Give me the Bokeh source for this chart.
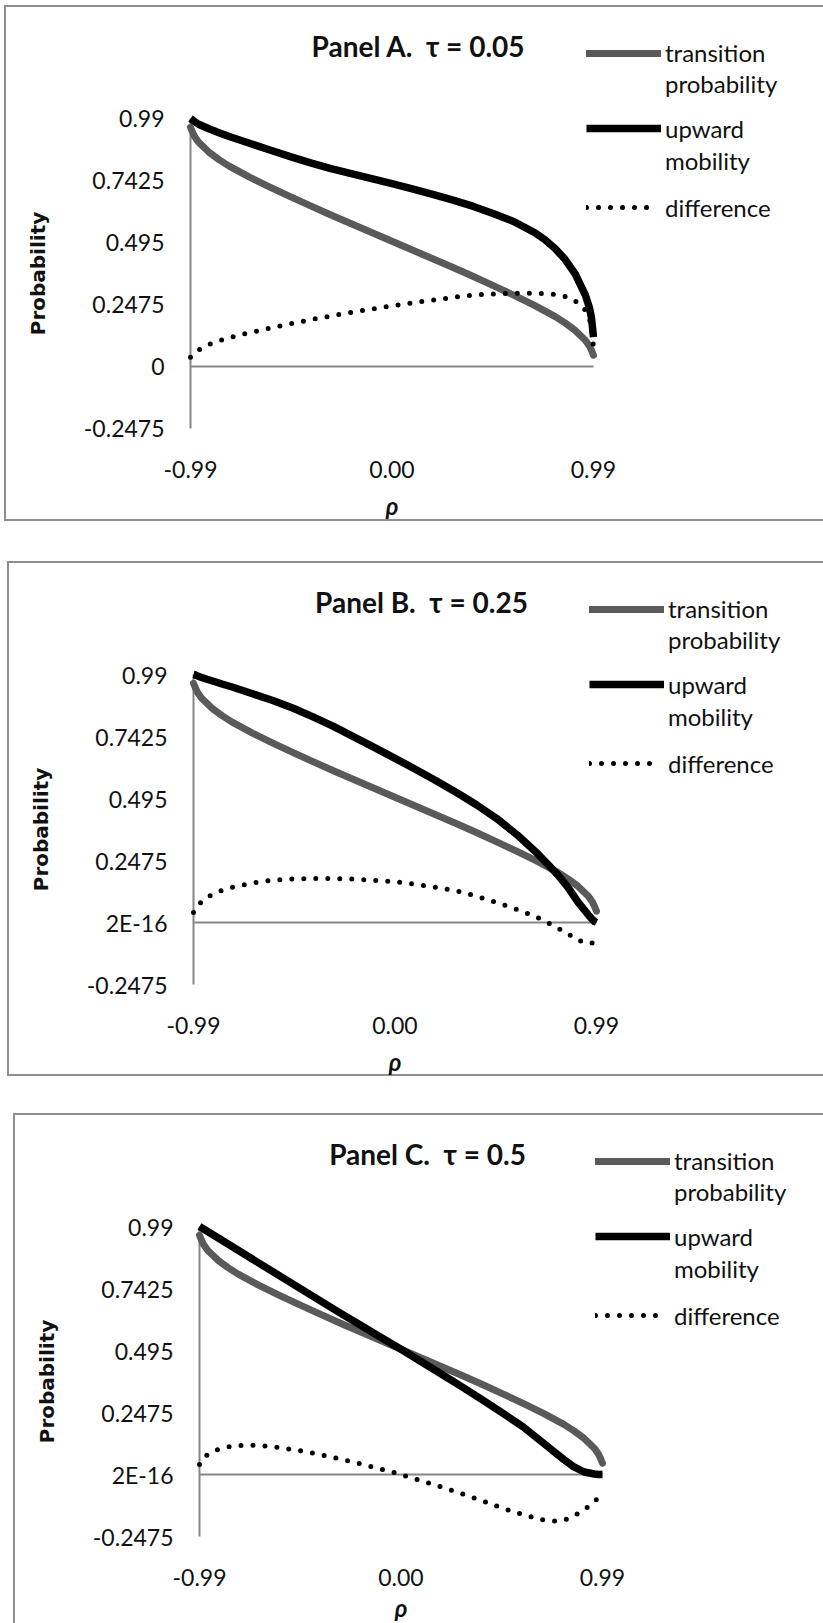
from bokeh.plotting import figure
from bokeh.models import (Range1d, LinearAxis, FixedTicker, Label, Legend,
                          LegendItem, ColumnDataSource)
from bokeh.layouts import column
from bokeh.embed import file_html
from bokeh.resources import INLINE

# ---------------- data ----------------
rho = [-0.99, -0.98, -0.97, -0.95, -0.9, -0.85, -0.8, -0.7, -0.6, -0.5, -0.4, -0.3,
       -0.2, -0.1, 0.0, 0.1, 0.2, 0.3, 0.4, 0.5, 0.6, 0.7, 0.75, 0.8, 0.85, 0.9,
       0.95, 0.97, 0.98, 0.99]

trans_prob = [0.955, 0.935, 0.918, 0.895, 0.856, 0.826, 0.800, 0.756, 0.716, 0.678,
              0.641, 0.605, 0.570, 0.535, 0.500, 0.465, 0.430, 0.395, 0.359, 0.322,
              0.284, 0.244, 0.222, 0.200, 0.174, 0.144, 0.105, 0.082, 0.065, 0.045]

up_A = [0.990, 0.984, 0.978, 0.967, 0.949, 0.933, 0.918, 0.891, 0.864, 0.838, 0.813,
        0.790, 0.770, 0.750, 0.730, 0.709, 0.687, 0.664, 0.639, 0.610, 0.578, 0.535,
        0.507, 0.472, 0.428, 0.370, 0.285, 0.235, 0.195, 0.117]
diff_A = [0.037, 0.045, 0.052, 0.066, 0.088, 0.102, 0.115, 0.135, 0.153, 0.170, 0.187,
          0.202, 0.216, 0.229, 0.242, 0.254, 0.265, 0.276, 0.285, 0.290, 0.292, 0.292,
          0.291, 0.288, 0.280, 0.262, 0.225, 0.190, 0.160, 0.075]

up_B = [0.990, 0.988, 0.984, 0.978, 0.965, 0.952, 0.940, 0.913, 0.886, 0.855, 0.820,
        0.782, 0.740, 0.698, 0.655, 0.612, 0.567, 0.520, 0.470, 0.415, 0.350, 0.275,
        0.233, 0.190, 0.140, 0.080, 0.030, 0.012, 0.004, 0.000]
diff_B = [0.040, 0.055, 0.066, 0.083, 0.112, 0.128, 0.140, 0.158, 0.169, 0.174, 0.176,
          0.176, 0.173, 0.168, 0.163, 0.153, 0.140, 0.127, 0.105, 0.080, 0.052, 0.020,
          0.000, -0.022, -0.045, -0.070, -0.085, -0.082, -0.074, -0.064]

up_C = [0.990, 0.985, 0.980, 0.970, 0.945, 0.920, 0.895, 0.845, 0.795, 0.745, 0.695,
        0.645, 0.597, 0.548, 0.500, 0.450, 0.400, 0.350, 0.298, 0.245, 0.190, 0.125,
        0.092, 0.060, 0.030, 0.010, 0.002, 0.000, 0.000, 0.000]
diff_C = [0.040, 0.055, 0.066, 0.080, 0.100, 0.110, 0.116, 0.117, 0.108, 0.096, 0.080,
          0.062, 0.043, 0.022, 0.000, -0.025, -0.050, -0.077, -0.105, -0.135, -0.160,
          -0.182, -0.186, -0.183, -0.165, -0.140, -0.110, -0.090, -0.078, -0.067]

y_ticks = [-0.2475, 0.0, 0.2475, 0.495, 0.7425, 0.99]
y_tick_labels_A = ["-0.2475", "0", "0.2475", "0.495", "0.7425", "0.99"]
y_tick_labels_BC = ["-0.2475", "2E-16", "0.2475", "0.495", "0.7425", "0.99"]
x_ticks = [-0.99, 0.0, 0.99]
x_tick_labels = ["-0.99", "0.00", "0.99"]
titles = ["Panel A. \u00a0\u03c4 = 0.05", "Panel B. \u00a0\u03c4 = 0.25",
          "Panel C. \u00a0\u03c4 = 0.5"]
legend_lines = [["transition", "probability"], ["upward", "mobility"], ["difference"]]

# ---------------- style ----------------
GRAY = "#5a5a5a"
AXIS = "#868686"
BORDER = "#8e8e8e"
FONT = "Lato"
TXT = "#111111"

Y_MIN, Y_MAX = -0.2475, 0.99
X_MIN, X_MAX = -0.99, 0.99


def bare(axis):
    axis.major_tick_out = 0
    axis.major_tick_in = 0
    axis.minor_tick_out = 0
    axis.minor_tick_in = 0


def panel(title, up, diff, ylabels, W, H, bottom_border=True, margin=(0, 0, 0, 0),
          rho_y=500):
    # pixel layout inside the panel box
    AX_L = 186          # x pixel of rho = -0.99
    AX_W = 403          # pixels from -0.99 to 0.99
    Y_TOP = 113         # y pixel of 0.99
    AX_H = 310          # pixels from 0.99 to -0.2475
    pxu = AX_W / (X_MAX - X_MIN)
    pyu = AX_H / (Y_MAX - Y_MIN)
    p = figure(width=W, height=H,
               x_range=Range1d(X_MIN - AX_L / pxu, X_MIN + (W - AX_L) / pxu),
               y_range=Range1d(Y_MIN - (H - Y_TOP - AX_H) / pyu, Y_MAX + Y_TOP / pyu),
               x_axis_type=None, y_axis_type=None,
               output_backend="svg", toolbar_location=None,
               min_border_left=0, min_border_top=0,
               min_border_right=0, min_border_bottom=0,
               margin=margin)
    p.outline_line_color = None
    p.border_fill_color = None
    p.background_fill_color = None
    shadows = ["inset 2px 0 0 " + BORDER, "inset 0 2px 0 " + BORDER]
    if bottom_border:
        shadows.append("inset 0 -2px 0 " + BORDER)
    p.styles = {"box-shadow": ", ".join(shadows)}

    # vertical axis at rho = -0.99
    yax = LinearAxis(ticker=FixedTicker(ticks=y_ticks), fixed_location=X_MIN,
                     bounds=(Y_MIN, Y_MAX))
    yax.major_label_overrides = {t: l for t, l in zip(y_ticks, ylabels)}
    bare(yax)
    yax.axis_line_color = AXIS
    yax.axis_line_width = 2
    yax.major_label_standoff = 26
    yax.major_label_text_font = FONT
    yax.major_label_text_font_size = "23px"
    yax.major_label_text_color = TXT
    yax.axis_label = "Probability"
    yax.axis_label_text_font = "DejaVu Sans"
    yax.axis_label_text_font_style = "bold"
    yax.axis_label_text_font_size = "20px"
    yax.axis_label_text_color = TXT
    yax.axis_label_standoff = 31
    yax.level = "underlay"
    p.add_layout(yax, "left")

    # horizontal tick labels, placed below the lowest value of the axis
    xax = LinearAxis(ticker=FixedTicker(ticks=x_ticks), fixed_location=Y_MIN)
    xax.major_label_overrides = {t: l for t, l in zip(x_ticks, x_tick_labels)}
    bare(xax)
    xax.axis_line_color = None
    xax.major_label_standoff = 32
    xax.major_label_text_font = FONT
    xax.major_label_text_font_size = "23px"
    xax.major_label_text_color = TXT
    p.add_layout(xax, "below")

    # horizontal axis line crossing at 0
    zax = LinearAxis(ticker=FixedTicker(ticks=[]), fixed_location=0.0,
                     bounds=(X_MIN, X_MAX))
    bare(zax)
    zax.axis_line_color = AXIS
    zax.axis_line_width = 2
    zax.major_label_standoff = 0
    zax.level = "underlay"
    p.add_layout(zax, "below")

    src = ColumnDataSource(dict(rho=rho, trans=trans_prob, up=up, diff=diff))
    r1 = p.line("rho", "trans", source=src, line_color=GRAY, line_width=7,
                line_cap="round", line_join="round")
    r2 = p.line("rho", "up", source=src, line_color="black", line_width=7.5,
                line_join="round")
    r3 = p.line("rho", "diff", source=src, line_color="black", line_width=5,
                line_dash="0 12", line_cap="round")

    # legend: one block per series, first text line aligned with the swatch
    blocks = [(legend_lines[0], r1, 31, 94, 75, 4),
              (legend_lines[1], r2, 32, 171, 75, 4),
              (legend_lines[2], r3, 31, 217.5, 64, 15)]
    for lines, r, step, bottom, gw, gap in blocks:
        items = [LegendItem(label=lines[0], renderers=[r])]
        for extra in lines[1:]:
            items.append(LegendItem(label=extra, renderers=[]))
        leg = Legend(items=items, location=(582, H - bottom),
                     glyph_width=gw, glyph_height=20, label_height=step,
                     label_standoff=gap, spacing=0, padding=0, margin=0,
                     border_line_color=None, background_fill_alpha=0,
                     label_text_font=FONT, label_text_font_size="24px",
                     label_text_color=TXT)
        p.add_layout(leg, "center")

    p.add_layout(Label(x=414, y=H - 40, x_units="screen", y_units="screen",
                       text=title, text_align="center", text_baseline="middle",
                       text_font=FONT, text_font_style="bold",
                       text_font_size="28px", text_color=TXT))
    p.add_layout(Label(x=AX_L + AX_W / 2, y=H - rho_y, x_units="screen",
                       y_units="screen", text="\u03c1", text_align="center",
                       text_baseline="middle", text_font=FONT,
                       text_font_style="bold italic", text_font_size="24px",
                       text_color=TXT))
    return p


pA = panel(titles[0], up_A, diff_A, y_tick_labels_A, 819, 516, True, (5, 0, 0, 4))
pB = panel(titles[1], up_B, diff_B, y_tick_labels_BC, 816, 515, True, (40, 0, 0, 7))
pC = panel(titles[2], up_C, diff_C, y_tick_labels_BC, 810, 510, False, (37, 0, 0, 13),
           rho_y=494)

layout = column(pA, pB, pC, spacing=0)
open("out.html", "w").write(file_html(layout, INLINE))
